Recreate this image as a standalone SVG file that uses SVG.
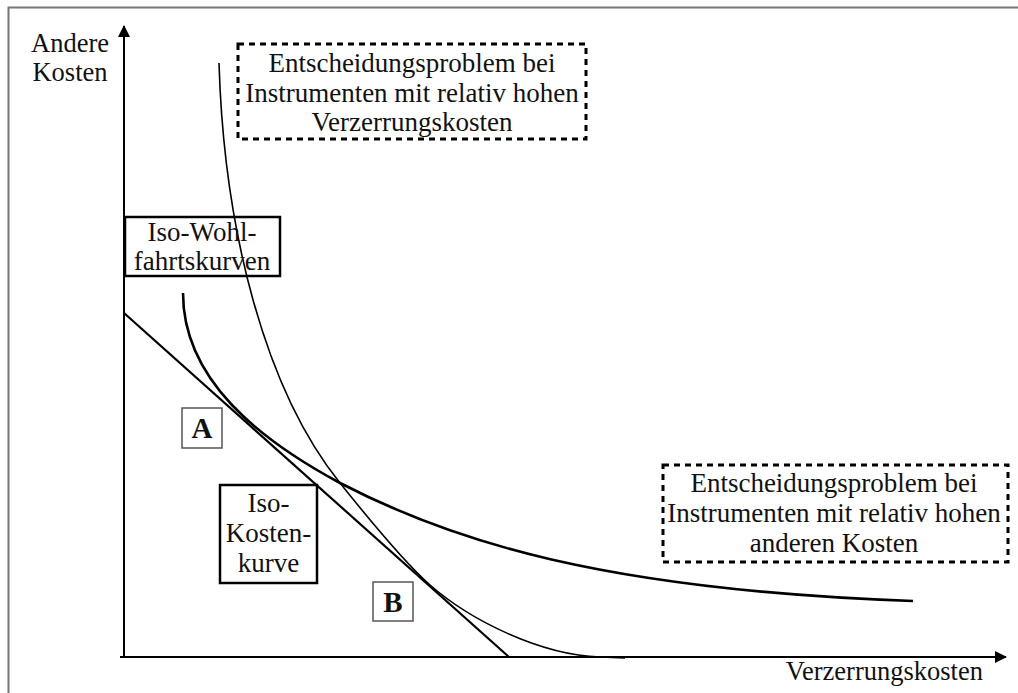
<svg xmlns="http://www.w3.org/2000/svg" width="1018" height="693" viewBox="0 0 1018 693">
<defs>
<style>
.t{font-family:"Liberation Serif","Times New Roman",serif;font-size:27px;fill:#111;text-anchor:middle}
.ax{font-family:"Liberation Serif","Times New Roman",serif;font-size:26.5px;fill:#111}
.b{font-family:"Liberation Serif","Times New Roman",serif;font-size:29px;font-weight:bold;fill:#111;text-anchor:middle}
.dash{fill:#fff;stroke:#000;stroke-width:3;stroke-dasharray:6 5}
.solid{fill:none;stroke:#000;stroke-width:2.5}
.thin{fill:#fff;stroke:#555;stroke-width:1.5}
.c{fill:none;stroke:#000}
</style>
<marker id="ah" viewBox="0 0 12 12" refX="11" refY="6" markerWidth="12" markerHeight="12" markerUnits="userSpaceOnUse" orient="auto">
<path d="M0,0 L12,6 L0,12 Z" fill="#000"/>
</marker>
</defs>
<rect x="0" y="0" width="1018" height="693" fill="#fff"/>
<rect x="8.5" y="7.5" width="1020" height="700" fill="none" stroke="#777" stroke-width="2"/>
<g id="connectors">
<line class="c" x1="124" y1="658" x2="124" y2="26" stroke-width="2" marker-end="url(#ah)"/>
<line class="c" x1="120" y1="657" x2="1006" y2="657" stroke-width="2" marker-end="url(#ah)"/>
<line class="c" x1="124" y1="313" x2="509" y2="657" stroke-width="2.2"/>
<path class="c" stroke-width="2.6" d="M183,293 C183,380 260,440 340,483 C450,540 600,590 913,601"/>
<path class="c" stroke-width="1.6" d="M219,63 C224,230 265,390 340,483 C360,508 405,563 430,585 C470,620 540,655 600,657 L625,658"/>
</g>
<g id="node-top">
<rect class="dash" x="238" y="44" width="348" height="95"/>
<text class="t" x="412" y="72">Entscheidungsproblem bei</text>
<text class="t" x="412" y="102">Instrumenten mit relativ hohen</text>
<text class="t" x="412" y="131">Verzerrungskosten</text>
</g>
<g id="node-right">
<rect class="dash" x="663" y="465" width="345" height="97"/>
<text class="t" x="834" y="492">Entscheidungsproblem bei</text>
<text class="t" x="834" y="522">Instrumenten mit relativ hohen</text>
<text class="t" x="834" y="552">anderen Kosten</text>
</g>
<g id="node-isowohl">
<rect class="solid" x="125" y="217" width="155" height="59"/>
<text class="t" x="202" y="241">Iso-Wohl-</text>
<text class="t" x="202" y="270">fahrtskurven</text>
</g>
<g id="node-isokosten">
<rect class="solid" x="220" y="485" width="97" height="98"/>
<text class="t" x="268.5" y="512">Iso-</text>
<text class="t" x="268.5" y="542">Kosten-</text>
<text class="t" x="268.5" y="572">kurve</text>
</g>
<g id="node-A">
<rect class="thin" x="182" y="408" width="40" height="40"/>
<text class="b" x="202" y="438">A</text>
</g>
<g id="node-B">
<rect class="thin" x="373" y="582" width="40" height="39"/>
<text class="b" x="393" y="612">B</text>
</g>
<g id="axis-labels">
<text class="ax" x="70" y="52" text-anchor="middle">Andere</text>
<text class="ax" x="70" y="81" text-anchor="middle">Kosten</text>
<text class="ax" x="983" y="680" text-anchor="end">Verzerrungskosten</text>
</g>
</svg>
